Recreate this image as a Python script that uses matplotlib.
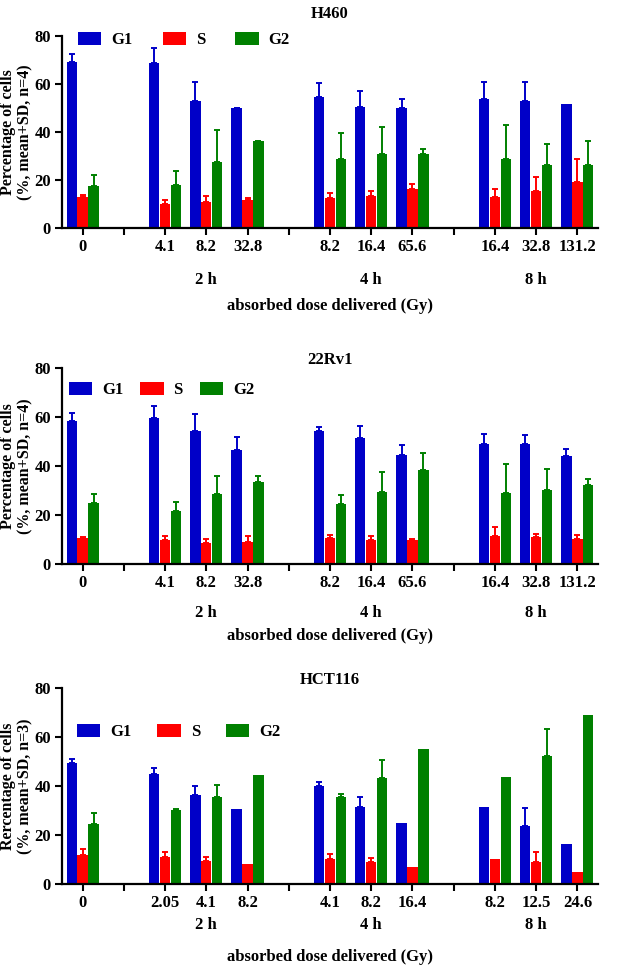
import numpy as np
import matplotlib
matplotlib.use("Agg")
import matplotlib.pyplot as plt
from matplotlib.patches import Patch

plt.rcParams['font.family'] = ['Liberation Serif', 'DejaVu Serif']
plt.rcParams['font.weight'] = 'bold'

# 데이터
phases = ['G1', 'S', 'G2']
colors = ['#0000c8', '#ff0000', '#008000']
groups = ['2 h', '4 h', '8 h']

dose_a = ['0', '4.1', '8.2', '32.8', '8.2', '16.4', '65.6', '16.4', '32.8', '131.2']
dose_b = ['0', '2.05', '4.1', '8.2', '4.1', '8.2', '16.4', '8.2', '12.5', '24.6']

h460_g1 = [69.0, 68.9, 53.1, 49.9, 54.6, 50.6, 49.9, 53.8, 53.1, 51.5]
h460_g1_sd = [3.3, 6.3, 7.7, 0.2, 6.0, 6.4, 4.0, 7.2, 7.6, 0]
h460_s = [13.1, 9.9, 10.7, 11.7, 12.4, 13.5, 16.3, 13.0, 15.5, 19.2]
h460_s_sd = [0.5, 1.9, 2.8, 0.7, 2.1, 2.0, 2.0, 3.3, 5.6, 9.5]
h460_g2 = [17.5, 18.0, 27.3, 36.1, 28.7, 30.7, 31.0, 28.6, 26.2, 26.1]
h460_g2_sd = [4.5, 5.7, 13.5, 0.2, 11.0, 11.4, 2.1, 14.2, 8.6, 10.0]

rv1_g1 = [58.2, 59.4, 54.3, 46.7, 54.4, 51.6, 44.5, 49.0, 48.8, 44.2]
rv1_g1_sd = [3.4, 5.1, 6.8, 5.3, 1.4, 4.7, 4.2, 3.9, 4.0, 2.7]
rv1_s = [10.7, 9.9, 8.7, 8.8, 10.6, 9.6, 9.8, 11.4, 11.0, 10.4]
rv1_s_sd = [0.3, 1.6, 1.6, 2.7, 1.3, 1.7, 0.4, 3.7, 1.3, 1.5]
rv1_g2 = [25.0, 21.7, 28.6, 33.6, 24.6, 29.3, 38.5, 29.0, 30.4, 32.4]
rv1_g2_sd = [3.4, 3.7, 7.5, 2.2, 3.5, 8.4, 7.0, 11.7, 8.4, 2.1]

hct_g1 = [49.5, 44.8, 36.5, 30.5, 39.9, 31.4, 25.0, 31.3, 23.7, 16.2]
hct_g1_sd = [1.7, 2.5, 3.5, 0, 1.6, 4.2, 0, 0, 7.3, 0]
hct_s = [12.0, 10.9, 9.4, 8.2, 10.3, 9.0, 6.8, 10.2, 9.0, 5.0]
hct_s_sd = [2.3, 2.0, 1.8, 0, 1.8, 1.5, 0, 0, 3.9, 0]
hct_g2 = [24.5, 30.1, 35.4, 44.4, 35.4, 43.4, 55.1, 43.8, 52.1, 68.8]
hct_g2_sd = [4.3, 0.4, 4.9, 0, 1.2, 7.1, 0, 0, 11.2, 0]

# 위치: 대조군 0, 구분 눈금, 시간별 3개씩
pos = [0]
seps = []
for g in range(len(groups)):
    seps.append(len(pos) + g)
    for i in range(3):
        pos.append(seps[-1] + 1 + i)
pos = np.array(pos)
group_centers = [pos[1 + 3 * g + 1] for g in range(len(groups))]

W, H = 618, 967
fig = plt.figure(figsize=(W / 100, H / 100), dpi=100)


def px_axes(left, top, right, bottom):
    return fig.add_axes([left / W, 1 - bottom / H, (right - left) / W, (bottom - top) / H])


panels = [
    dict(title='H460', top=36, bottom=228, doses=dose_a,
         vals=[h460_g1, h460_s, h460_g2], sds=[h460_g1_sd, h460_s_sd, h460_g2_sd],
         ylabel='Percentage of cells\n(%, mean+SD, n=4)', tpad=13,
         leg=(0.03, 0.98), colsp=1.8, glab=52, xlab=78),
    dict(title='22Rv1', top=368, bottom=564, doses=dose_a,
         vals=[rv1_g1, rv1_s, rv1_g2], sds=[rv1_g1_sd, rv1_s_sd, rv1_g2_sd],
         ylabel='Percentage of cells\n(%, mean+SD, n=4)', tpad=3,
         leg=(0.013, 0.888), colsp=1.0, glab=49, xlab=72),
    dict(title='HCT116', top=688, bottom=884, doses=dose_b,
         vals=[hct_g1, hct_s, hct_g2], sds=[hct_g1_sd, hct_s_sd, hct_g2_sd],
         ylabel='Rercentage of cells\n(%, mean+SD, n=3)', tpad=1.5,
         leg=(0.028, 0.776), colsp=1.55, glab=41, xlab=73),
]

width = 0.25
offsets = [-0.265, 0, 0.265]
fs = 12

for p in panels:
    ax = px_axes(62, p['top'], 598, p['bottom'])
    for k in range(3):
        x = pos + offsets[k]
        v = np.array(p['vals'][k])
        sd = np.array(p['sds'][k])
        ax.bar(x, v, width=width, color=colors[k], edgecolor='none', zorder=2)
        m = sd > 0
        ax.errorbar(x[m], v[m], yerr=[np.zeros(m.sum()), sd[m]], fmt='none',
                    ecolor=colors[k], elinewidth=1.4, capsize=2, capthick=1.4, zorder=1)
    ax.set_xlim(-0.5, pos[-1] + 0.5)
    ax.set_ylim(0, 80)
    ax.set_yticks([0, 20, 40, 60, 80])
    ticks = list(pos) + seps
    labels = list(p['doses']) + [''] * len(seps)
    ax.set_xticks(ticks)
    ax.set_xticklabels(labels)
    ax.tick_params(axis='both', direction='out', length=5, width=1.5, labelsize=fs, pad=3)
    for t in ax.get_xticklabels() + ax.get_yticklabels():
        t.set_fontweight('bold')
    ax.spines['top'].set_visible(False)
    ax.spines['right'].set_visible(False)
    ax.spines['left'].set_linewidth(1.6)
    ax.spines['bottom'].set_linewidth(1.6)
    ax.set_title(p['title'], fontsize=fs, fontweight='bold', pad=p['tpad'])

    for g, c in zip(groups, group_centers):
        ax.annotate(g, xy=(c, 0), xycoords=('data', 'axes fraction'),
                    xytext=(0, -p['glab'] * 0.72), textcoords='offset points',
                    ha='center', va='center', fontsize=fs, fontweight='bold')
    ax.annotate('absorbed dose delivered (Gy)', xy=(0.5, 0), xycoords='axes fraction',
                xytext=(0, -p['xlab'] * 0.72), textcoords='offset points',
                ha='center', va='center', fontsize=fs, fontweight='bold')

    fig.text(17 / W, 1 - (p['top'] + p['bottom']) / 2 / H, p['ylabel'], rotation=90,
             ha='center', va='center', fontsize=11.5, fontweight='bold', multialignment='center',
             linespacing=1.1)

    handles = [Patch(facecolor=c, edgecolor='none') for c in colors]
    ax.legend(handles, phases, loc='center left', bbox_to_anchor=p['leg'], ncol=3,
              frameon=False, handlelength=1.4, handleheight=0.8, handletextpad=0.6,
              columnspacing=p['colsp'], borderpad=0, borderaxespad=0,
              prop={'weight': 'bold', 'size': fs})

fig.savefig('out.png', dpi=100)
